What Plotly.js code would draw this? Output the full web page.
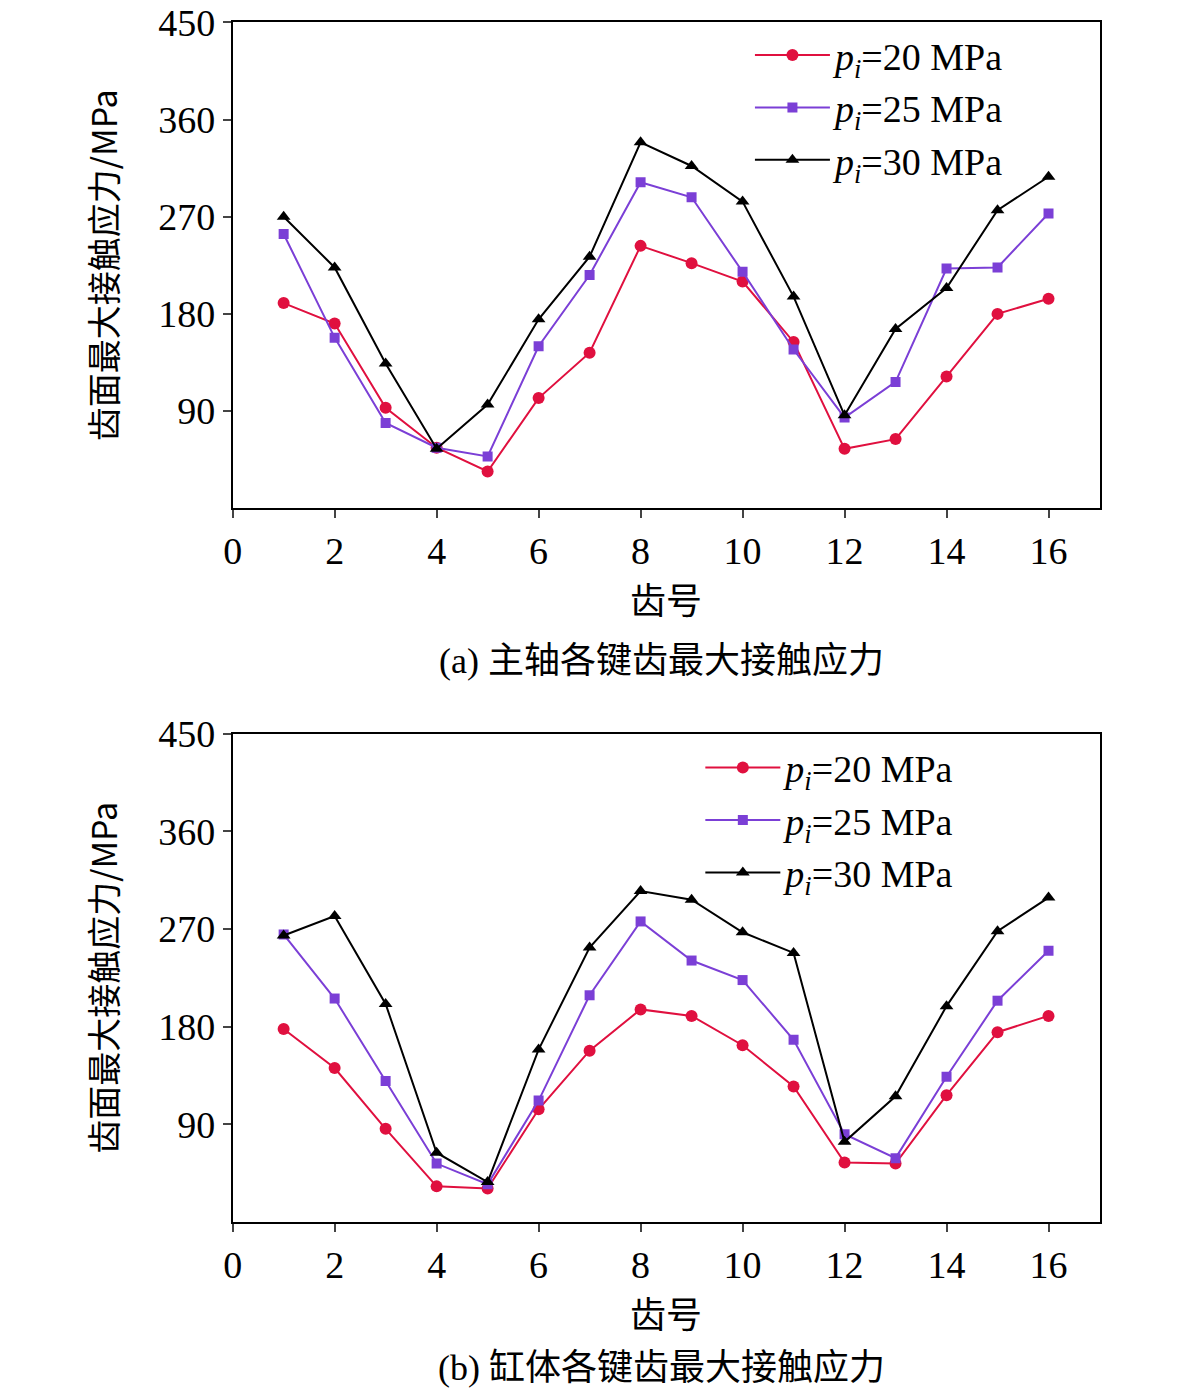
<!DOCTYPE html>
<html>
<head>
<meta charset="utf-8">
<script src="https://cdn.plot.ly/plotly-3.0.1.min.js"></script>
<style>body{margin:0;background:#fff}</style>
</head>
<body>
<div id="plot" style="width:1181px;height:1400px"></div>
<script>
// numéros des dents
const teeth = [1,2,3,4,5,6,7,8,9,10,11,12,13,14,15,16];
const seriesNames = ["<i>p</i><sub><i>i</i></sub>=20 MPa", "<i>p</i><sub><i>i</i></sub>=25 MPa", "<i>p</i><sub><i>i</i></sub>=30 MPa"];

// (a) arbre principal
const shaft20 = [190,171,93,56,34,102,144,243,227,210,154,55,64,122,180,194];
const shaft25 = [254,158,79,56,48,150,216,302,288,219,147,84,117,222,223,273];
const shaft30 = [270,223,134,55,96,175,233,339,317,284,196,86,166,204,276,307];

// (b) cylindre
const cyl20 = [178,142,86,33,31,104,158,196,190,163,125,55,54,117,175,190];
const cyl25 = [265,206,130,54,35,112,209,277,241,223,168,81,59,134,204,250];
const cyl30 = [264,282,201,64,37,159,253,305,297,267,248,74,116,199,268,299];

const styles = [
  {color:'#e0103f', symbol:'circle', size:12},
  {color:'#7b3fd6', symbol:'square', size:10},
  {color:'#000000', symbol:'triangle-up', size:12}
];

function mk(y, i, xa, ya, leg) {
  return {x: teeth, y: y, mode: 'lines+markers', name: seriesNames[i],
    xaxis: xa, yaxis: ya, legend: leg,
    line: {color: styles[i].color, width: 2},
    marker: {color: styles[i].color, symbol: styles[i].symbol, size: styles[i].size}};
}

const data = [
  mk(shaft20,0,'x','y','legend'), mk(shaft25,1,'x','y','legend'), mk(shaft30,2,'x','y','legend'),
  mk(cyl20,0,'x2','y2','legend2'), mk(cyl25,1,'x2','y2','legend2'), mk(cyl30,2,'x2','y2','legend2')
];

const serif = 'Liberation Serif, Times New Roman, serif';
const mixed = 'Liberation Serif, Noto Sans CJK SC, serif';
const cjk = 'Noto Sans CJK SC, Liberation Serif, serif';
function xax(dom, anchor) {
  return {domain: dom, anchor: anchor, range: [0,17], tickvals: [0,2,4,6,8,10,12,14,16],
    showline: true, mirror: true, linecolor: '#000', linewidth: 1.5, ticks: 'outside',
    ticklen: 8, tickwidth: 1.5, showgrid: false, zeroline: false,
    tickfont: {family: serif, size: 38, color: '#000'},
    title: {text: '齿号', font: {family: cjk, size: 36, color: '#000'}, standoff: 2}};
}
function yax(dom, anchor) {
  return {domain: dom, anchor: anchor, range: [0,450], tickvals: [90,180,270,360,450],
    showline: true, mirror: true, linecolor: '#000', linewidth: 1.5, ticks: 'outside',
    ticklen: 8, tickwidth: 1.5, showgrid: false, zeroline: false,
    tickfont: {family: serif, size: 38, color: '#000'},
    title: {text: '齿面最大接触应力/MPa', font: {family: cjk, size: 34, color: '#000'}, standoff: 30}};
}
const legStyle = {font: {family: serif, size: 38, color: '#000'}, bgcolor: 'rgba(0,0,0,0)',
  xanchor: 'left', yanchor: 'top', itemwidth: 75, tracegroupgap: 0};

const layout = {
  width: 1181, height: 1400, margin: {l: 0, r: 0, t: 0, b: 0},
  paper_bgcolor: '#fff', plot_bgcolor: '#fff',
  xaxis: xax([0.197,0.931],'y'), yaxis: yax([0.637,0.984],'x'),
  xaxis2: xax([0.197,0.931],'y2'), yaxis2: yax([0.127,0.476],'x2'),
  legend: Object.assign({x: 0.635, y: 0.983}, legStyle),
  legend2: Object.assign({x: 0.593, y: 0.474}, legStyle),
  annotations: [
    {text: '(a) 主轴各键齿最大接触应力', xref: 'paper', yref: 'paper', x: 0.56, y: 0.528,
      yanchor: 'middle', showarrow: false, font: {family: mixed, size: 36, color: '#000'}},
    {text: '(b) 缸体各键齿最大接触应力', xref: 'paper', yref: 'paper', x: 0.56, y: 0.023,
      yanchor: 'middle', showarrow: false, font: {family: mixed, size: 36, color: '#000'}}
  ]
};

Plotly.newPlot('plot', data, layout, {displayModeBar: false});
</script>
</body>
</html>
